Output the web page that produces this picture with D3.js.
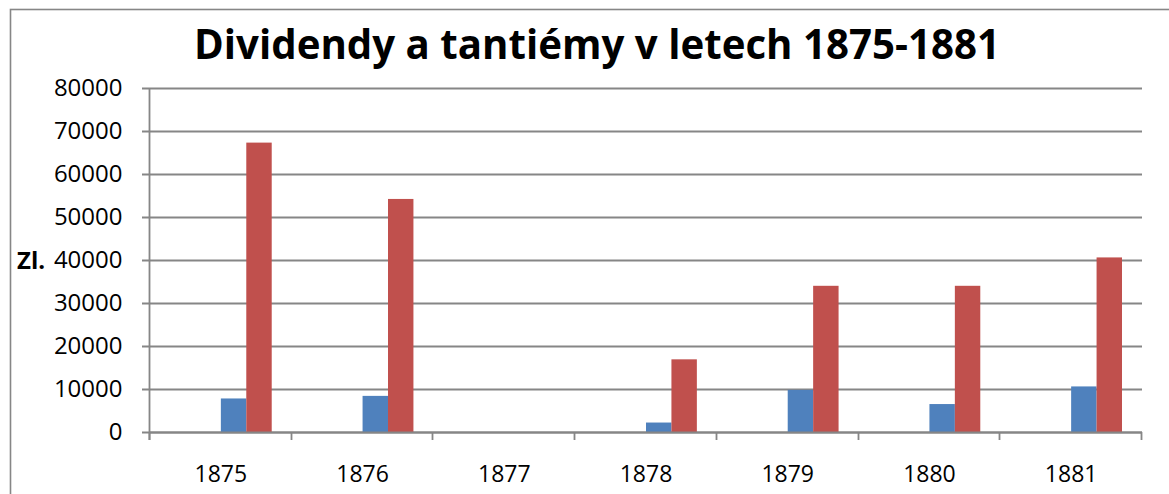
<!DOCTYPE html>
<html>
<head>
<meta charset="utf-8">
<script src="https://cdn.jsdelivr.net/npm/d3@7/dist/d3.min.js"></script>
<style>
  body { margin: 0; background: #fff; }
  text { font-family: "Open Sans", "Noto Sans", sans-serif; }
</style>
</head>
<body>
<div id="chart"></div>
<script>
"use strict";

// chart data
var years = ["1875", "1876", "1877", "1878", "1879", "1880", "1881"];
var dividendy = [7800, 8400, 0, 2200, 9800, 6500, 10600];   // blue
var tantiemy = [67300, 54200, 0, 16900, 34000, 34000, 40600]; // red
var yTicks = [0, 10000, 20000, 30000, 40000, 50000, 60000, 70000, 80000];
// Excel keeps four slots per category, the first two are empty
var slots = ["a", "b", "dividendy", "tantiemy"];
var colors = { dividendy: "#4f81bd", tantiemy: "#c0504d" };

var W = 1169, H = 494;
var plot = { left: 150, right: 1142, top: 88, bottom: 432 };

var svg = d3.select("#chart").append("svg")
  .attr("width", W)
  .attr("height", H);

// outer chart frame (right and bottom sides are off the picture)
svg.append("rect")
  .attr("x", 10.5).attr("y", 9.5)
  .attr("width", 1300).attr("height", 600)
  .attr("fill", "none")
  .attr("stroke", "#868686")
  .attr("stroke-width", 1.6);

var x = d3.scaleBand()
  .domain(years)
  .range([plot.left, plot.right]);

var gap = 20;
var xInner = d3.scaleBand()
  .domain(slots)
  .range([gap, x.bandwidth() - gap]);

var y = d3.scaleLinear()
  .domain([0, 80000])
  .range([plot.bottom, plot.top]);

// gridlines
svg.append("g")
  .selectAll("line")
  .data(yTicks)
  .join("line")
  .attr("x1", plot.left - 8)
  .attr("x2", plot.right)
  .attr("y1", function(d) { return Math.round(y(d)) + 0.5; })
  .attr("y2", function(d) { return Math.round(y(d)) + 0.5; })
  .attr("stroke", "#868686")
  .attr("stroke-width", 1.8);

// bars
var series = [
  { key: "dividendy", values: dividendy },
  { key: "tantiemy", values: tantiemy }
];
series.forEach(function(s) {
  svg.append("g")
    .selectAll("rect")
    .data(s.values)
    .join("rect")
    .attr("x", function(d, i) { return x(years[i]) + xInner(s.key); })
    .attr("width", xInner.bandwidth())
    .attr("y", function(d) { return y(d); })
    .attr("height", function(d) { return y(0) - y(d); })
    .attr("fill", colors[s.key]);
});

// y axis
var yAxis = d3.axisLeft(y)
  .tickValues(yTicks)
  .tickFormat(d3.format("d"))
  .tickSize(8)
  .tickPadding(19);

var yG = svg.append("g")
  .attr("transform", "translate(" + (plot.left - 0.5) + ",0)")
  .call(yAxis);
yG.select(".domain").remove();
yG.selectAll(".tick line").remove();
yG.selectAll("text")
  .style("font-size", "24px")
  .attr("fill", "#000");

// vertical axis line, runs down to the tick length
svg.append("line")
  .attr("x1", plot.left - 0.5).attr("x2", plot.left - 0.5)
  .attr("y1", plot.top).attr("y2", plot.bottom + 8)
  .attr("stroke", "#868686")
  .attr("stroke-width", 1.8);

// x axis
var xAxis = d3.axisBottom(x)
  .tickSize(0)
  .tickPadding(34);

var xG = svg.append("g")
  .attr("transform", "translate(0," + plot.bottom + ")")
  .call(xAxis);
xG.select(".domain").remove();
xG.selectAll("text")
  .style("font-size", "23px")
  .attr("fill", "#000");

svg.append("line")
  .attr("x1", plot.left).attr("x2", plot.right)
  .attr("y1", plot.bottom + 0.5).attr("y2", plot.bottom + 0.5)
  .attr("stroke", "#868686")
  .attr("stroke-width", 1.8);

// category boundary ticks
var bounds = years.map(function(d) { return x(d); }).concat([plot.right]);
svg.append("g")
  .selectAll("line")
  .data(bounds)
  .join("line")
  .attr("x1", function(d) { return Math.round(d) - 0.5; })
  .attr("x2", function(d) { return Math.round(d) - 0.5; })
  .attr("y1", plot.bottom)
  .attr("y2", plot.bottom + 8)
  .attr("stroke", "#868686")
  .attr("stroke-width", 1.8);

// axis title
svg.append("text")
  .attr("x", 17)
  .attr("y", 269)
  .style("font-size", "24px")
  .style("font-weight", "bold")
  .text("Zl.");

// chart title, sized to the width it has in the picture
var title = svg.append("text")
  .attr("x", 194)
  .attr("y", 59)
  .style("font-size", "40px")
  .style("font-weight", "bold")
  .text("Dividendy a tantiémy v letech 1875-1881");
var tw = title.node().getComputedTextLength();
title.style("font-size", (40 * 806 / tw) + "px");
</script>
</body>
</html>
